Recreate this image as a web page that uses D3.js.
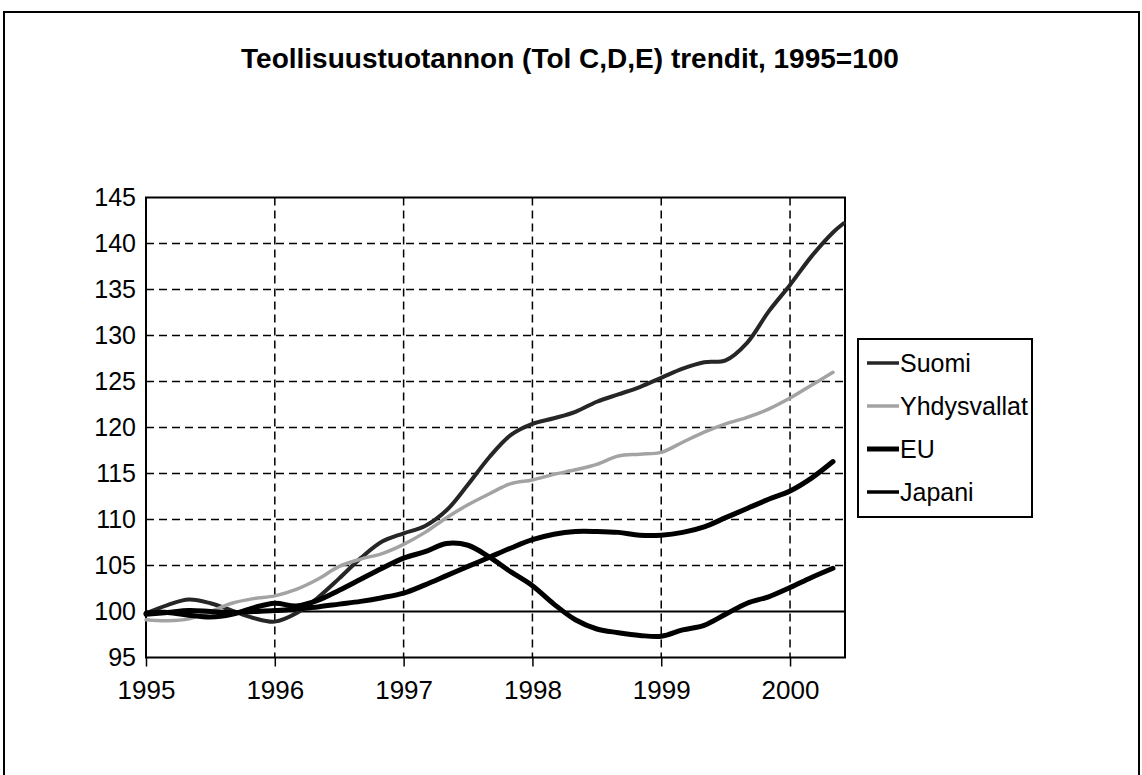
<!DOCTYPE html>
<html>
<head>
<meta charset="utf-8">
<script src="https://cdn.jsdelivr.net/npm/d3@7"></script>
<style>
  body { margin: 0; background: #fff; }
  svg { display: block; font-family: "Liberation Sans", Arial, sans-serif; }
</style>
</head>
<body>
<div id="chart"></div>
<script>
// months since Jan 1995
const months = [0, 2, 4, 6, 8, 10, 12, 14, 16, 18, 20, 22, 24, 26, 28, 30, 32,
    34, 36, 38, 40, 42, 44, 46, 48, 50, 52, 54, 56, 58, 60, 62, 64, 65];

// trend values, 1995=100
const suomi = [99.8, 100.7, 101.3, 100.9, 100.1, 99.3, 98.9, 99.8, 101.5, 103.6, 105.8, 107.6,
    108.5, 109.3, 111.0, 113.8, 116.8, 119.2, 120.4, 121.0, 121.7, 122.8, 123.6, 124.4,
    125.4, 126.4, 127.1, 127.3, 129.2, 132.6, 135.5, 138.6, 141.2, 142.2];
const yhdysvallat = [99.1, 99.0, 99.2, 100.0, 100.9, 101.4, 101.7, 102.4, 103.5, 104.9, 105.7, 106.3,
    107.3, 108.6, 110.2, 111.6, 112.8, 113.9, 114.3, 114.9, 115.4, 116.0, 116.9, 117.1,
    117.3, 118.4, 119.5, 120.4, 121.1, 122.0, 123.2, 124.6, 126.0, null];
const eu = [99.7, 99.9, 100.1, 100.0, 99.9, 100.0, 100.1, 100.3, 100.5, 100.8, 101.1, 101.5,
    102.0, 102.9, 103.9, 104.9, 105.9, 106.9, 107.8, 108.4, 108.7, 108.7, 108.6, 108.3,
    108.3, 108.6, 109.2, 110.2, 111.2, 112.2, 113.1, 114.5, 116.3, null];
const japani = [99.8, 99.9, 99.6, 99.4, 99.7, 100.4, 100.9, 100.6, 101.2, 102.3, 103.5, 104.7,
    105.8, 106.5, 107.4, 107.2, 105.9, 104.3, 102.8, 100.8, 99.1, 98.1, 97.7, 97.4,
    97.3, 98.0, 98.5, 99.7, 100.9, 101.6, 102.6, 103.7, 104.7, null];

const seriesNames = ["Suomi", "Yhdysvallat", "EU", "Japani"];
const yTicks = [95, 100, 105, 110, 115, 120, 125, 130, 135, 140, 145];
const yearTicks = [0, 12, 24, 36, 48, 60];
const yearLabels = ["1995", "1996", "1997", "1998", "1999", "2000"];

// line looks
const styles = [
    { color: "#262626", width: 4 },
    { color: "#a3a3a3", width: 3.5 },
    { color: "#000", width: 5 },
    { color: "#000", width: 5 }
];

const width = 1142;
const height = 775;
const plot = { left: 146, right: 845, top: 197.5, bottom: 657.5 };

const svg = d3.select("#chart")
.append("svg")
.attr("width", width)
.attr("height", height);

// outer frame
svg.append("rect")
.attr("x", 4).attr("y", 12)
.attr("width", 1135).attr("height", 800)
.attr("fill", "none")
.attr("stroke", "#000")
.attr("stroke-width", 2);

// title
svg.append("text")
.attr("x", 570).attr("y", 68)
.attr("text-anchor", "middle")
.attr("font-size", 28)
.attr("font-weight", "bold")
.text("Teollisuustuotannon (Tol C,D,E) trendit, 1995=100");

const x = d3.scaleLinear()
.domain([0, 65.12])
.range([plot.left, plot.right]);

const y = d3.scaleLinear()
.domain([95, 145])
.range([plot.bottom, plot.top]);

// horizontal dashed grid
svg.append("g")
.selectAll("line")
.data(yTicks.filter(d => d > 100 && d < 145))
.enter()
.append("line")
.attr("x1", plot.left).attr("x2", plot.right)
.attr("y1", d => y(d)).attr("y2", d => y(d))
.attr("stroke", "#000")
.attr("stroke-width", 1.5)
.attr("stroke-dasharray", "8,5");

// vertical dashed grid
svg.append("g")
.selectAll("line")
.data(yearTicks.slice(1))
.enter()
.append("line")
.attr("x1", d => x(d)).attr("x2", d => x(d))
.attr("y1", plot.top).attr("y2", plot.bottom)
.attr("stroke", "#000")
.attr("stroke-width", 1.5)
.attr("stroke-dasharray", "8,5");

// 100 reference line
svg.append("line")
.attr("x1", plot.left).attr("x2", plot.right)
.attr("y1", y(100)).attr("y2", y(100))
.attr("stroke", "#000")
.attr("stroke-width", 2);

// plot frame
svg.append("rect")
.attr("x", plot.left).attr("y", plot.top)
.attr("width", plot.right - plot.left)
.attr("height", plot.bottom - plot.top)
.attr("fill", "none")
.attr("stroke", "#000")
.attr("stroke-width", 2);

// y axis labels
const yAxis = d3.axisLeft(y)
.tickValues(yTicks)
.tickSize(0)
.tickPadding(10);

svg.append("g")
.attr("transform", `translate(${plot.left},0)`)
.call(yAxis)
.call(g => g.select(".domain").remove())
.call(g => g.selectAll("text").attr("font-size", 25).attr("fill", "#000").attr("font-family", null));

// x axis with ticks below the frame
const xAxis = d3.axisBottom(x)
.tickValues(yearTicks)
.tickSize(9)
.tickPadding(14)
.tickFormat((d, i) => yearLabels[i]);

svg.append("g")
.attr("transform", `translate(0,${plot.bottom})`)
.call(xAxis)
.call(g => g.select(".domain").remove())
.call(g => g.selectAll("line").attr("stroke", "#000").attr("stroke-width", 1.5))
.call(g => g.selectAll("text").attr("font-size", 26).attr("fill", "#000").attr("font-family", null));

// series lines
const allSeries = [suomi, yhdysvallat, eu, japani];

const line = d3.line()
.defined(d => d[1] != null)
.x(d => x(d[0]))
.y(d => y(d[1]))
.curve(d3.curveCatmullRom.alpha(0.5));

svg.append("g")
.selectAll("path")
.data(allSeries)
.enter()
.append("path")
.attr("d", s => line(months.map((m, i) => [m, s[i]])))
.attr("fill", "none")
.attr("stroke", (s, i) => styles[i].color)
.attr("stroke-width", (s, i) => styles[i].width)
.attr("stroke-linejoin", "round")
.attr("stroke-linecap", "round");

// legend
const legend = svg.append("g")
.attr("transform", "translate(858,339)");

legend.append("rect")
.attr("width", 174).attr("height", 178)
.attr("fill", "#fff")
.attr("stroke", "#000")
.attr("stroke-width", 2);

const item = legend.selectAll("g.item")
.data(seriesNames)
.enter()
.append("g")
.attr("class", "item")
.attr("transform", (d, i) => `translate(0,${24 + i * 43})`);

item.append("line")
.attr("x1", 9).attr("x2", 41)
.attr("stroke", (d, i) => styles[i].color)
.attr("stroke-width", (d, i) => i === 2 ? 5 : 3.5);

item.append("text")
.attr("x", 42)
.attr("dy", "0.35em")
.attr("font-size", 25)
.text(d => d);
</script>
</body>
</html>
